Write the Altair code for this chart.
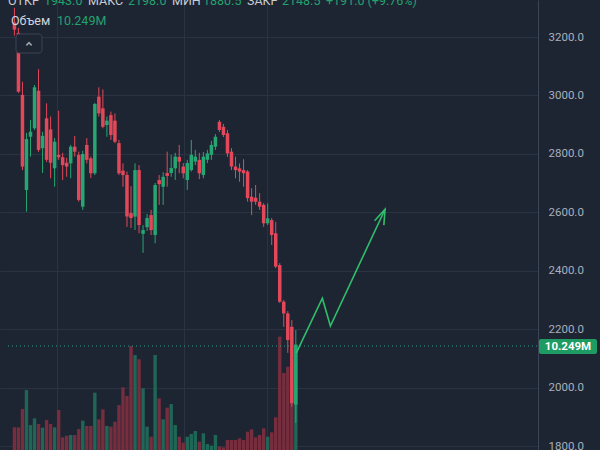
import altair as alt
import pandas as pd
import numpy as np

# ---------------- data ----------------
opens  = [3250, 3214, 3002, 2677, 2859, 2888, 3016, 2820, 2922, 2884, 2751, 2797, 2789, 2770, 2768, 2825,
          2797, 2620, 2831, 2785, 2734, 2996, 2956, 2899, 2933, 2914, 2837, 2743, 2728, 2598, 2586, 2745,
          2527, 2550, 2591, 2523, 2711, 2688, 2735, 2735, 2751, 2790, 2757, 2711, 2745, 2774, 2780, 2728,
          2780, 2797, 2825, 2910, 2893, 2871, 2808, 2757, 2751, 2745, 2740, 2654, 2650, 2637, 2626, 2563,
          2574, 2529, 2420, 2295, 2255, 2209, 1943.0]
highs  = [3300, 3231, 3047, 2872, 2916, 3036, 3090, 2876, 2973, 2928, 2855, 2948, 2804, 2787, 2831, 2862,
          2808, 2811, 2854, 2791, 2975, 3028, 3021, 2928, 2945, 2939, 2848, 2768, 2740, 2690, 2768, 2762,
          2557, 2595, 2609, 2701, 2728, 2738, 2808, 2797, 2804, 2831, 2769, 2780, 2848, 2814, 2804, 2807,
          2814, 2845, 2868, 2916, 2903, 2882, 2820, 2791, 2768, 2782, 2745, 2683, 2694, 2666, 2632, 2631,
          2581, 2568, 2427, 2301, 2263, 2232, 2198.0]
lows   = [3205, 3009, 2745, 2603, 2791, 2882, 2807, 2735, 2773, 2717, 2688, 2780, 2711, 2722, 2717, 2791,
          2637, 2609, 2768, 2718, 2728, 2928, 2888, 2859, 2848, 2837, 2728, 2688, 2551, 2547, 2540, 2529,
          2462, 2537, 2523, 2495, 2626, 2626, 2688, 2722, 2711, 2734, 2717, 2677, 2740, 2762, 2714, 2717,
          2769, 2780, 2814, 2875, 2858, 2790, 2745, 2717, 2705, 2688, 2637, 2591, 2626, 2609, 2551, 2557,
          2489, 2410, 2291, 2209, 2120, 1936, 1880.5]
closes = [3225, 3013, 2757, 2851, 2876, 3028, 2814, 2862, 2780, 2770, 2842, 2789, 2762, 2757, 2825, 2808,
          2643, 2800, 2780, 2734, 2971, 2939, 2893, 2914, 2865, 2842, 2734, 2728, 2586, 2581, 2745, 2557,
          2540, 2581, 2540, 2694, 2697, 2722, 2725, 2752, 2791, 2774, 2734, 2769, 2797, 2791, 2734, 2791,
          2802, 2831, 2859, 2882, 2865, 2802, 2757, 2745, 2740, 2734, 2649, 2637, 2637, 2620, 2563, 2580,
          2523, 2415, 2295, 2255, 2164, 1948, 2148.5]
volumes = [2.23, 2.23, 4.04, 5.91, 2.46, 3.12, 2.56, 2.20, 2.96, 2.56,
           2.23, 3.94, 1.25, 1.41, 1.48, 1.48, 2.07, 2.89, 2.37, 2.37,
           5.65, 3.02, 4.01, 2.37, 2.30, 2.79, 4.43, 6.18, 5.32, 10.25,
           9.36, 8.94, 6.08, 2.30, 1.31, 9.36, 5.09, 3.02, 4.17, 4.53,
           2.46, 1.31, 0.72, 1.31, 1.58, 1.87, 0.82, 1.64, 0.59, 0.43,
           1.48, 0.33, 0.26, 0.99, 0.99, 0.99, 1.15, 0.99, 1.81, 2.04,
           1.25, 1.48, 2.14, 1.31, 1.74, 3.22, 11.17, 7.59, 8.21, 8.87, 10.249]

grid_bars = [10.6, 42.1, 62.9]
price_ticks = [1800, 2000, 2200, 2400, 2600, 2800, 3000, 3200]
arrow_bar = [70.1, 76.6, 78.6, 92.2]
arrow_price = [2119, 2307, 2212, 2611]
head_bar = [89.6, 92.2, 91.9]
head_price = [2572, 2611, 2557]
last_volume = 10.249
last_volume_text = "10.249M"
legend_labels = ["ОТКР", "МАКС", "МИН", "ЗАКР"]
legend_values = ["1943.0", "2198.0", "1880.5", "2148.5"]
change_text = "+191.0 (+9.76%)"

# ---------------- styling ----------------
BG = "#1e2532"
GRID = "#2a3342"
UP = "#26a672"
DOWN = "#e3485a"
VUP = "#206657"
VDOWN = "#762d3e"
FONT = "Roboto"

n = len(opens)
df = pd.DataFrame({"i": np.arange(n), "open": opens, "high": highs, "low": lows,
                   "close": closes, "vol": volumes})
df["dir"] = np.where(df["close"] >= df["open"], "up", "down")

x_dom = [-2.344, 129.0]
price_dom = [1788, 3326.5]
vol_dom = [0, 44.35]


def X(field="i"):
    return alt.X(f"{field}:Q", scale=alt.Scale(domain=x_dom, nice=False, zero=False),
                 axis=alt.Axis(values=grid_bars, grid=True, gridColor=GRID, gridWidth=1,
                               labels=False, ticks=False, domain=False, title=None))


def PY(field, axis=False):
    ax = None
    if axis:
        ax = alt.Axis(orient="right", values=price_ticks, format=".1f", grid=True,
                      gridColor=GRID, labelColor="#a9b0bd", labelFontSize=11.5, labelFont=FONT,
                      labelPadding=10, ticks=False, domain=True, domainColor="#3a4557",
                      title=None, labelOverlap=False)
    return alt.Y(f"{field}:Q", scale=alt.Scale(domain=price_dom, nice=False, zero=False), axis=ax)


def VY(field):
    return alt.Y(f"{field}:Q", scale=alt.Scale(domain=vol_dom, nice=False, zero=True), axis=None)


base = alt.Chart(df)

vol_bars = base.mark_bar(size=3.4).encode(
    x=X(), y=VY("vol"), y2=alt.datum(0),
    color=alt.Color("dir:N", scale=alt.Scale(domain=["up", "down"], range=[VUP, VDOWN]), legend=None),
)

vol_line = alt.Chart(pd.DataFrame({"v": [last_volume]})).mark_rule(
    strokeDash=[1, 3], color="#2a9d8a", strokeWidth=1
).encode(y=VY("v"), x=alt.value(8), x2=alt.value(538))

wicks = base.mark_rule(strokeWidth=1).encode(
    x=X(), y=PY("low", axis=True), y2="high:Q",
    color=alt.Color("dir:N", scale=alt.Scale(domain=["up", "down"], range=[UP, DOWN]), legend=None),
)

bodies = base.mark_bar(size=3.5).encode(
    x=X(), y=PY("open"), y2="close:Q",
    color=alt.Color("dir:N", scale=alt.Scale(domain=["up", "down"], range=[UP, DOWN]), legend=None),
)

arrow_df = pd.DataFrame({"i": arrow_bar, "p": arrow_price, "o": range(len(arrow_bar))})
arrow = alt.Chart(arrow_df).mark_line(color="#2fbf6c", strokeWidth=1.6).encode(
    x=X(), y=PY("p"), order="o:Q")
head_df = pd.DataFrame({"i": head_bar, "p": head_price, "o": range(len(head_bar))})
head = alt.Chart(head_df).mark_line(color="#2fbf6c", strokeWidth=1.6).encode(
    x=X(), y=PY("p"), order="o:Q")

one = pd.DataFrame({"t": [last_volume_text]})
label_box = alt.Chart(one).mark_rect(color="#1e9a63", cornerRadius=2).encode(
    x=alt.value(539), x2=alt.value(597), y=alt.value(339), y2=alt.value(354))
label_txt = alt.Chart(one).mark_text(color="white", fontSize=11.5, fontWeight="bold", font=FONT,
                                     align="center", baseline="middle").encode(
    x=alt.value(568), y=alt.value(347), text="t:N")

# legend texts (top line, cut by the top edge as in the reference)
texts = []
lab_x = [8, 88, 172, 247]
val_x = [44, 128, 203, 282]
for lx, vx, lab, val in zip(lab_x, val_x, legend_labels, legend_values):
    texts.append(alt.Chart(pd.DataFrame({"t": [lab]})).mark_text(
        color="#c9ccd3", fontSize=12.5, font=FONT, align="left", baseline="alphabetic").encode(
        x=alt.value(lx), y=alt.value(5), text="t:N"))
    texts.append(alt.Chart(pd.DataFrame({"t": [val]})).mark_text(
        color="#23a26f", fontSize=12.5, font=FONT, align="left", baseline="alphabetic").encode(
        x=alt.value(vx), y=alt.value(5), text="t:N"))
texts.append(alt.Chart(pd.DataFrame({"t": [change_text]})).mark_text(
    color="#23a26f", fontSize=12.5, font=FONT, align="left", baseline="alphabetic").encode(
    x=alt.value(326), y=alt.value(5), text="t:N"))

vol_title = alt.Chart(pd.DataFrame({"t": ["Объем"]})).mark_text(
    color="#d1d4dc", fontSize=12.5, font=FONT, align="left", baseline="middle").encode(
    x=alt.value(11), y=alt.value(21), text="t:N")
vol_value = alt.Chart(pd.DataFrame({"t": [last_volume_text]})).mark_text(
    color="#23a26f", fontSize=12.5, font=FONT, align="left", baseline="middle").encode(
    x=alt.value(57), y=alt.value(21), text="t:N")

btn = alt.Chart(pd.DataFrame({"t": ["^"]})).mark_rect(
    fill=BG, stroke="#3a4454", strokeWidth=1, cornerRadius=3).encode(
    x=alt.value(16), x2=alt.value(42), y=alt.value(34), y2=alt.value(53))
caret = alt.Chart(pd.DataFrame({"t": ["^"]})).mark_point(
    shape="M-1,0.5L0,-0.5L1,0.5", filled=False, stroke="#d1d4dc", strokeWidth=1.6, size=28).encode(
    x=alt.value(29), y=alt.value(44))

chart = alt.layer(
    vol_bars, vol_line, wicks, bodies, arrow, head, label_box, label_txt,
    vol_title, vol_value, btn, caret, *texts
).resolve_scale(y="independent", color="independent").properties(
    width=538, height=450,
    autosize=alt.AutoSizeParams(type="none"),
    padding={"left": 0, "top": 0, "right": 62, "bottom": 0},
    background=BG,
).configure_view(stroke=None)

chart.save("out.html", embed_options={"renderer": "svg", "actions": False})
